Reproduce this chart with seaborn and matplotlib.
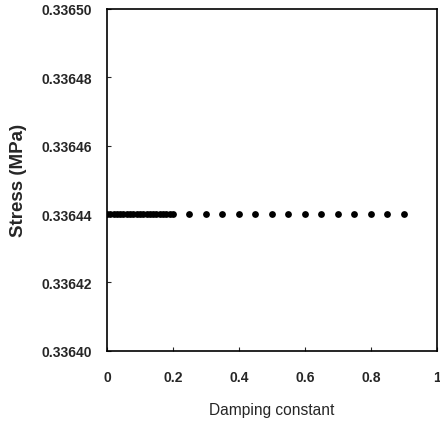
import matplotlib
matplotlib.use("Agg")
import matplotlib.pyplot as plt
import seaborn as sns
import pandas as pd
from matplotlib.ticker import FormatStrFormatter

# Data: stress vs damping constant
damping = [0.00, 0.01, 0.02, 0.03, 0.04, 0.05, 0.06, 0.07, 0.08, 0.09, 0.10,
           0.11, 0.12, 0.13, 0.14, 0.15, 0.16, 0.17, 0.18, 0.19, 0.20,
           0.25, 0.30, 0.35, 0.40, 0.45, 0.50, 0.55, 0.60, 0.65, 0.70,
           0.75, 0.80, 0.85, 0.90]
stress = [0.33644] * len(damping)

x_ticks = [0, 0.2, 0.4, 0.6, 0.8, 1]
x_tick_labels = ['0', '0.2', '0.4', '0.6', '0.8', '1']
y_ticks = [0.33640, 0.33642, 0.33644, 0.33646, 0.33648, 0.33650]

df = pd.DataFrame({'damping': damping, 'stress': stress})

sns.set_style('ticks')
plt.rcParams['font.family'] = ['Liberation Sans', 'DejaVu Sans']

fig = plt.figure(figsize=(4.4, 4.27), dpi=100)
ax = fig.add_axes([0.243, 0.176, 0.75, 0.801])

sns.scatterplot(data=df, x='damping', y='stress', ax=ax,
                color='black', s=24, edgecolor='black', linewidth=0)

ax.set_xlim(0, 1)
ax.set_ylim(0.33640, 0.33650)
ax.set_xticks(x_ticks)
ax.set_xticklabels(x_tick_labels)
ax.set_yticks(y_ticks)
ax.yaxis.set_major_formatter(FormatStrFormatter('%.5f'))
ax.tick_params(axis='x', direction='in', length=3, width=0.8, labelsize=10, pad=14)
ax.tick_params(axis='y', direction='in', length=3, width=0.8, labelsize=10, pad=11)
for lab in ax.get_xticklabels() + ax.get_yticklabels():
    lab.set_fontweight('bold')
for sp in ax.spines.values():
    sp.set_visible(True)
    sp.set_linewidth(1.2)
    sp.set_color('black')

ax.set_xlabel('Damping constant', fontsize=11.2, labelpad=13)
ax.set_ylabel('Stress (MPa)', fontsize=13.5, fontweight='bold', labelpad=10)

fig.savefig('out.png', dpi=100)
